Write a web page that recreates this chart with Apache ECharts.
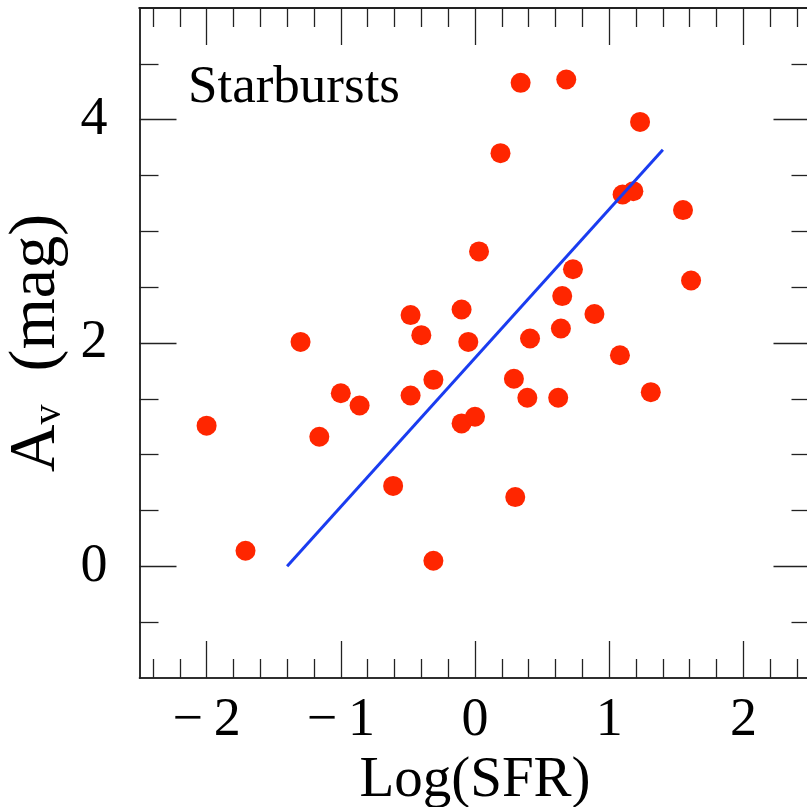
<!DOCTYPE html>
<html>
<head>
<meta charset="utf-8">
<script src="https://cdn.jsdelivr.net/npm/echarts@6/dist/echarts.min.js"></script>
<style>
  html, body { margin: 0; padding: 0; background: #fff; }
  #chart { width: 807px; height: 807px; }
</style>
</head>
<body>
<div id="chart"></div>
<script>
// Log(SFR) and A_v for each starburst
const logSFR = [-2.00, -1.71, -1.30, -1.16, -1.00, -0.86, -0.61, -0.48, -0.40, -0.48,
  -0.31, -0.31, -0.10, -0.05, -0.10, 0.00, 0.03, 0.19, 0.34, 0.29,
  0.30, 0.41, 0.39, 0.68, 0.62, 0.64, 0.65, 0.73, 0.89, 1.08,
  1.10, 1.18, 1.23, 1.31, 1.55, 1.61]
const av = [1.26, 0.14, 2.01, 1.16, 1.55, 1.44, 0.72, 2.25, 2.07, 1.53,
  1.67, 0.05, 2.30, 2.01, 1.28, 1.34, 2.82, 3.70, 4.33, 1.68,
  0.62, 2.04, 1.51, 4.36, 1.51, 2.13, 2.42, 2.66, 2.26, 1.89,
  3.33, 3.36, 3.98, 1.56, 3.19, 2.56]

// fitted relation
const fitX = [-1.40, 1.40]
const fitY = [0.00, 3.73]

// tick positions
const xMajor = [-2, -1, 0, 1, 2]
const yMajor = [0, 2, 4]
const xMinor = []
for (let i = -12; i <= 12; i++) if (i % 5 !== 0) xMinor.push(i / 5)
const yMinor = [-0.5, 0.5, 1, 1.5, 2.5, 3, 3.5, 4.5]

const chart = echarts.init(document.getElementById('chart'))

const serif = 'Liberation Serif'
const ink = '#222'

function xAx(pos, ticks, len, lw, labels) {
  return {
    type: 'value', position: pos, min: -2.5, max: 2.5,
    axisLine: { show: true, onZero: false, lineStyle: { color: ink, width: lw } },
    axisTick: { show: true, inside: true, length: len, customValues: ticks, lineStyle: { color: ink, width: 1.3 } },
    axisLabel: labels ? {
      show: true, customValues: ticks, margin: 16, color: '#000',
      fontFamily: serif, fontSize: 54,
      formatter: v => (v < 0 ? '\u2212\u2009' + Math.abs(v) : String(v))
    } : { show: false },
    splitLine: { show: false }
  }
}

function yAx(pos, ticks, len, labels) {
  return {
    type: 'value', position: pos, min: -1, max: 5,
    axisLine: { show: true, onZero: false, lineStyle: { color: ink, width: 1.5 } },
    axisTick: { show: true, inside: true, length: len, customValues: ticks, lineStyle: { color: ink, width: 1.3 } },
    axisLabel: labels ? {
      show: true, customValues: ticks, margin: 32, color: '#000',
      fontFamily: serif, fontSize: 54
    } : { show: false },
    splitLine: { show: false }
  }
}

const xMain = xAx('bottom', xMajor, 37, 1.5, true)
xMain.name = 'Log(SFR)'
xMain.nameLocation = 'middle'
xMain.nameGap = 66
xMain.nameTextStyle = { fontFamily: serif, fontSize: 57, color: '#000' }

const yMain = yAx('left', yMajor, 37, true)
yMain.name = '{m|A}{s|v}{m|  (mag)}'
yMain.nameLocation = 'middle'
yMain.nameRotate = 90
yMain.nameGap = 66
yMain.nameTextStyle = {
  fontFamily: serif, color: '#000',
  rich: {
    m: { fontFamily: serif, fontSize: 66, lineHeight: 66, color: '#000' },
    s: { fontFamily: serif, fontSize: 40, lineHeight: 38, verticalAlign: 'bottom', color: '#000' }
  }
}

const option = {
  animation: false,
  backgroundColor: '#fff',
  title: {
    text: '{t|Starbursts}',
    left: 183, top: 57,
    textStyle: {
      fontFamily: serif, fontSize: 54, fontWeight: 'normal', color: '#000',
      rich: { t: { fontFamily: serif, fontSize: 53, fontWeight: 'normal', color: '#000' } }
    }
  },
  grid: { left: 139.5, top: 8, right: -3.5, bottom: 129, outerBoundsMode: 'none' },
  xAxis: [
    xMain,
    xAx('bottom', xMinor, 19, 1.5, false),
    xAx('top', xMajor, 37, 2, false),
    xAx('top', xMinor, 19, 2, false)
  ],
  yAxis: [
    yMain,
    yAx('left', yMinor, 19, false),
    yAx('right', yMajor, 37, false),
    yAx('right', yMinor, 19, false)
  ],
  series: [
    {
      type: 'scatter',
      symbol: 'circle',
      symbolSize: 20,
      itemStyle: { color: '#ff2600', opacity: 1 },
      data: logSFR.map((x, i) => [x, av[i]])
    },
    {
      type: 'line',
      symbol: 'none',
      lineStyle: { color: '#1a3cf0', width: 3 },
      data: fitX.map((x, i) => [x, fitY[i]])
    }
  ]
}

chart.setOption(option)
</script>
</body>
</html>
